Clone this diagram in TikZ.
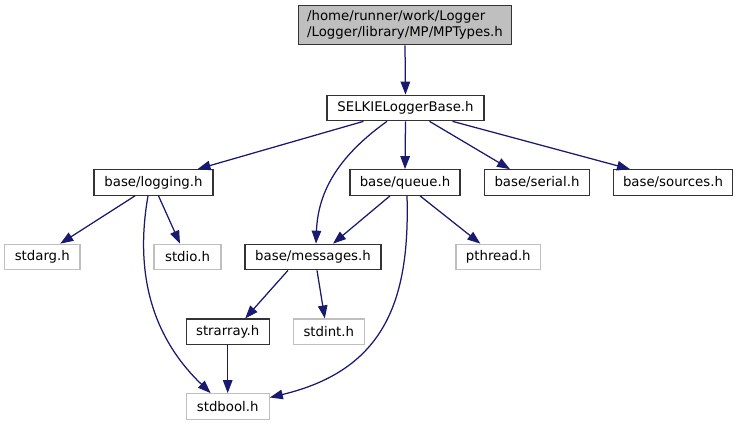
\documentclass[tikz,border=0pt]{standalone}
\usepackage{fontspec}
\setmainfont{DejaVu Sans}
\usetikzlibrary{arrows.meta}
\definecolor{edgec}{HTML}{191970}
\definecolor{grayb}{HTML}{BFBFBF}
\definecolor{darkb}{HTML}{333333}
\tikzset{
  base/.style={rectangle, inner sep=0pt, font=\fontsize{13.3}{15.5}\selectfont, minimum height=25.5pt},
  blk/.style={base, draw=darkb, line width=1.2pt, fill=white},
  sys/.style={base, draw=grayb, line width=1.2pt, fill=white},
  edge/.style={draw=edgec, line width=1.25pt, -{Triangle[length=13pt,width=9.5pt]}},
}
\begin{document}
\begin{tikzpicture}[x=1pt,y=-1pt]
\useasboundingbox (0,0) rectangle (738,425);
\node[blk, fill=grayb, minimum width=213pt, minimum height=39.5pt, align=left] (mp) at (405,25) {/home/runner/work/Logger\\/Logger/library/MP/MPTypes.h};
\node[blk, minimum width=157pt] (selkie) at (405.5,108) {SELKIELoggerBase.h};
\node[blk, minimum width=119pt] (logging) at (153.5,182.5) {base/logging.h};
\node[blk, minimum width=110pt] (queue) at (405,182.5) {base/queue.h};
\node[blk, minimum width=105.5pt] (serial) at (537,182.5) {base/serial.h};
\node[blk, minimum width=119.5pt] (sources) at (673,182.5) {base/sources.h};
\node[sys, minimum width=75.5pt] (stdarg) at (42.3,257) {stdarg.h};
\node[sys, minimum width=67pt] (stdio) at (187.5,257) {stdio.h};
\node[blk, minimum width=136pt] (messages) at (313,257) {base/messages.h};
\node[sys, minimum width=84.5pt] (pthread) at (498.3,257) {pthread.h};
\node[blk, minimum width=83pt] (strarray) at (227.7,331.8) {strarray.h};
\node[sys, minimum width=71pt] (stdint) at (328.8,331.8) {stdint.h};
\node[sys, minimum width=83pt] (stdbool) at (227.7,406.5) {stdbool.h};

\draw[edge] (mp.south) -- (selkie.north);
\draw[edge] ([xshift=-42pt]selkie.south) -- ([xshift=44pt]logging.north);
\draw[edge] ([xshift=-18.5pt]selkie.south) .. controls (340,155) and (318,190) .. ([xshift=3pt]messages.north);
\draw[edge] (selkie.south) -- (queue.north);
\draw[edge] ([xshift=24pt]selkie.south) -- ([xshift=-27pt]serial.north);
\draw[edge] ([xshift=47pt]selkie.south) -- ([xshift=-43pt]sources.north);
\draw[edge] ([xshift=-18.5pt]logging.south) -- ([xshift=18pt]stdarg.north);
\draw[edge] ([xshift=5pt]logging.south) -- ([xshift=-7.5pt]stdio.north);
\draw[edge] ([xshift=-5.5pt]logging.south) .. controls (135,270) and (150,335) .. ([xshift=-17pt]stdbool.north);
\draw[edge] ([xshift=-15pt]queue.south) -- ([xshift=20pt]messages.north);
\draw[edge] ([xshift=15pt]queue.south) -- ([xshift=-18pt]pthread.north);
\draw[edge] ([xshift=2pt]queue.south) .. controls (410,300) and (385,370) .. ([yshift=9pt]stdbool.east);
\draw[edge] ([xshift=-25pt]messages.south) -- ([xshift=17.5pt]strarray.north);
\draw[edge] ([xshift=4pt]messages.south) -- ([xshift=-4pt]stdint.north);
\draw[edge] (strarray.south) -- (stdbool.north);
\end{tikzpicture}
\end{document}
